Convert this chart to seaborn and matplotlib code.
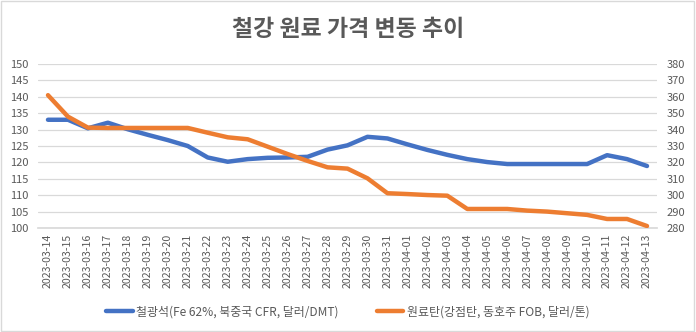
import matplotlib
matplotlib.use("Agg")
import matplotlib.pyplot as plt
import seaborn as sns
import pandas as pd
from matplotlib.patches import Rectangle
from matplotlib.lines import Line2D

dates = pd.date_range("2023-03-14", "2023-04-13", freq="D").strftime("%Y-%m-%d").tolist()
iron_ore = [133, 133, 130.4, 132.1, 130.1, 128.4, 126.8, 125, 121.5, 120.2, 121, 121.4, 121.5, 121.7,
            123.9, 125.2, 127.8, 127.3, 125.5, 123.8, 122.3, 121, 120.1, 119.5, 119.5, 119.5, 119.5,
            119.5, 122.2, 121, 118.9]
coking_coal = [361, 347.9, 341.2, 341, 341, 341, 341, 341, 338.1, 335.3, 334.1, 329.6, 325.1, 320.9,
               317, 316.2, 310.3, 301.2, 300.7, 300.1, 299.7, 291.6, 291.6, 291.6, 290.6, 290, 289,
               288, 285.5, 285.5, 281.2]
label_iron = "철광석(Fe 62%, 북중국 CFR, 달러/DMT)"
label_coal = "원료탄(강점탄, 동호주 FOB, 달러/톤)"
title = "철강 원료 가격 변동 추이"

df = pd.DataFrame({"date": dates, "iron": iron_ore, "coal": coking_coal})
df["idx"] = range(len(df))

sns.set_theme(style="white")
plt.rcParams["font.family"] = ["Noto Sans CJK KR", "DejaVu Sans"]

blue = "#4472C4"
orange = "#ED7D31"
tick_col = "#595959"

fig = plt.figure(figsize=(6.96, 3.32), dpi=100)
ax = fig.add_axes([38 / 696, 1 - 228 / 332, (657 - 38) / 696, (228 - 64) / 332])
ax2 = ax.twinx()

sns.lineplot(data=df, x="idx", y="iron", ax=ax, color=blue, linewidth=3.2, legend=False)
sns.lineplot(data=df, x="idx", y="coal", ax=ax2, color=orange, linewidth=3.2, legend=False)

ax.set_ylim(100, 150)
ax.set_yticks(range(100, 151, 5))
ax2.set_ylim(280, 380)
ax2.set_yticks(range(280, 381, 10))
ax.set_xlim(-0.5, len(dates) - 0.5)
ax.set_xticks(df["idx"])
ax.set_xticklabels(dates, rotation=90)
ax.grid(axis="y", color="#D9D9D9", linewidth=0.9)
ax.set_axisbelow(True)
for a in (ax, ax2):
    for s in a.spines.values():
        s.set_visible(False)
    a.set_xlabel("")
    a.set_ylabel("")
    a.tick_params(length=0, labelsize=8, colors=tick_col, pad=7)
ax.tick_params(axis="x", labelsize=7.6, pad=4)
ax.spines["bottom"].set_visible(True)
ax.spines["bottom"].set_color("#D9D9D9")

fig.text(0.5, 1 - 30 / 332, title, ha="center", va="center", fontsize=16.5, fontweight="bold", color="#595959")

handles = [Line2D([0], [0], color=blue, linewidth=3.2), Line2D([0], [0], color=orange, linewidth=3.2)]
fig.legend(handles, [label_iron, label_coal], loc="center", bbox_to_anchor=(0.5, 1 - 312 / 332),
           ncol=2, frameon=False, fontsize=8.6, handlelength=2.2, columnspacing=3.2, handletextpad=0.3,
           labelcolor=tick_col)

fig.patches.append(Rectangle((0.002, 0.003), 0.995, 0.993, transform=fig.transFigure, fill=False,
                             edgecolor="#D9D9D9", linewidth=1))

fig.savefig("out.png", dpi=100)
